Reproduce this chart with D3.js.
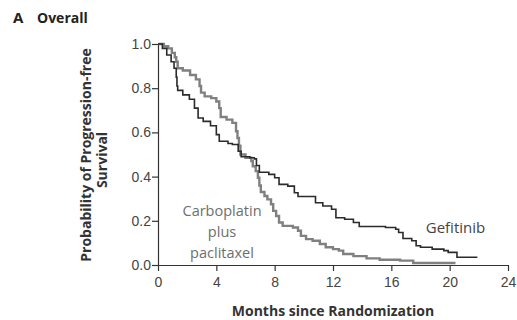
<!DOCTYPE html>
<html>
<head>
<meta charset="utf-8">
<script src="https://cdn.jsdelivr.net/npm/d3@7"></script>
<style>
  body { margin: 0; background: #fff; }
  svg { display: block; font-family: "Open Sans", Lato, sans-serif; }
  .axis path, .axis line { stroke: #333; stroke-width: 1.2; }
  .axis text { fill: #444; font-size: 14px; }
</style>
</head>
<body>
<div id="chart-area"></div>
<script>
const xTicks = [0, 4, 8, 12, 16, 20, 24];
const yTicks = [0, 0.2, 0.4, 0.6, 0.8, 1.0];

const gefitinibMonths = [0, 0.3, 0.6, 0.9, 1.1, 1.25, 1.3, 1.35, 1.7, 2.15, 2.5, 2.75, 3.1, 3.6, 4.0, 4.2, 4.8, 5.1, 5.5, 5.7, 6.3, 6.6, 6.75, 6.95, 7.6, 8.0, 8.3, 8.9, 9.35, 9.6, 10.8, 11.3, 11.9, 12.2, 12.8, 13.4, 13.8, 15.6, 16.3, 16.5, 16.8, 17.4, 17.7, 18.0, 18.8, 19.6, 19.9, 20.5, 21.9];
const gefitinibSurv = [1.0, 0.98, 0.95, 0.92, 0.89, 0.85, 0.81, 0.79, 0.77, 0.75, 0.71, 0.665, 0.65, 0.63, 0.59, 0.56, 0.55, 0.545, 0.515, 0.49, 0.485, 0.48, 0.45, 0.42, 0.41, 0.395, 0.365, 0.357, 0.327, 0.31, 0.282, 0.267, 0.252, 0.214, 0.207, 0.192, 0.174, 0.17, 0.162, 0.147, 0.12, 0.11, 0.087, 0.08, 0.072, 0.065, 0.057, 0.035, 0.035];

const carboMonths = [0, 0.4, 0.7, 0.95, 1.15, 1.25, 1.35, 1.7, 2.2, 2.6, 2.85, 2.95, 3.2, 3.65, 4.0, 4.2, 4.3, 4.7, 5.1, 5.35, 5.45, 5.55, 5.65, 6.0, 6.4, 6.5, 6.7, 6.85, 6.95, 7.05, 7.3, 7.5, 7.75, 7.9, 8.1, 8.3, 8.55, 9.25, 9.6, 9.8, 10.15, 10.6, 11.1, 11.5, 12.0, 12.4, 12.7, 13.4, 14.3, 15.2, 16.6, 17.5, 20.4];
const carboSurv = [1.0, 0.99, 0.98, 0.96, 0.94, 0.92, 0.89, 0.88, 0.86, 0.84, 0.81, 0.78, 0.763, 0.755, 0.74, 0.71, 0.67, 0.658, 0.643, 0.605, 0.575, 0.54, 0.50, 0.485, 0.47, 0.447, 0.425, 0.395, 0.36, 0.33, 0.312, 0.297, 0.275, 0.245, 0.222, 0.192, 0.177, 0.17, 0.155, 0.132, 0.117, 0.11, 0.095, 0.08, 0.072, 0.065, 0.05, 0.04, 0.03, 0.024, 0.02, 0.009, 0.009];

const chartSize = { width: 517, height: 320 };
const margin = { left: 158, right: 9, top: 44, bottom: 55 };
const width = chartSize.width - margin.left - margin.right;
const height = chartSize.height - margin.top - margin.bottom;

const svg = d3.select("#chart-area")
  .append("svg")
  .attr("width", chartSize.width)
  .attr("height", chartSize.height);

// panel heading
svg.append("text")
  .attr("x", 13).attr("y", 23)
  .attr("font-weight", "bold").attr("font-size", 15).attr("fill", "#222")
  .text("A");
svg.append("text")
  .attr("x", 37).attr("y", 23)
  .attr("font-weight", "bold").attr("font-size", 14).attr("fill", "#222")
  .text("Overall");

const g = svg.append("g")
  .attr("transform", `translate(${margin.left},${margin.top})`);

const x = d3.scaleLinear().domain([0, 24]).range([0, width]);
const y = d3.scaleLinear().domain([0, 1]).range([height, 0]);

g.append("g")
  .attr("class", "x axis")
  .attr("transform", `translate(0,${height})`)
  .call(d3.axisBottom(x).tickValues(xTicks).tickSize(6).tickSizeOuter(0).tickPadding(6));

g.append("g")
  .attr("class", "y axis")
  .call(d3.axisLeft(y).tickValues(yTicks).tickSize(6).tickSizeOuter(0).tickPadding(1).tickFormat(d3.format(".1f")));

const line = d3.line()
  .x(d => x(d[0]))
  .y(d => y(d[1]))
  .curve(d3.curveStepAfter);

g.append("path")
  .datum(d3.zip(carboMonths, carboSurv))
  .attr("fill", "none")
  .attr("stroke", "#808080")
  .attr("stroke-width", 2.4)
  .attr("d", line);

g.append("path")
  .datum(d3.zip(gefitinibMonths, gefitinibSurv))
  .attr("fill", "none")
  .attr("stroke", "#2b2b2b")
  .attr("stroke-width", 1.6)
  .attr("d", line);

const carboLabel = g.append("text")
  .attr("text-anchor", "middle")
  .attr("fill", "#6e6e6e")
  .attr("font-size", 14.5);
["Carboplatin", "plus", "paclitaxel"].forEach((t, i) => {
  carboLabel.append("tspan")
    .attr("x", x(4.39))
    .attr("y", y(0.222) + i * 21)
    .text(t);
});

g.append("text")
  .attr("x", x(20.4))
  .attr("y", y(0.145))
  .attr("text-anchor", "middle")
  .attr("fill", "#444")
  .attr("font-size", 15)
  .text("Gefitinib");

g.append("text")
  .attr("x", width / 2)
  .attr("y", height + 51)
  .attr("text-anchor", "middle")
  .attr("font-weight", "bold")
  .attr("font-size", 14)
  .attr("fill", "#333")
  .text("Months since Randomization");

const yLabel = g.append("text")
  .attr("transform", "rotate(-90)")
  .attr("text-anchor", "middle")
  .attr("font-weight", "bold")
  .attr("font-size", 14)
  .attr("fill", "#333");
yLabel.append("tspan").attr("x", -111).attr("y", -67).text("Probability of Progression-free");
yLabel.append("tspan").attr("x", -116).attr("y", -51).text("Survival");
</script>
</body>
</html>
